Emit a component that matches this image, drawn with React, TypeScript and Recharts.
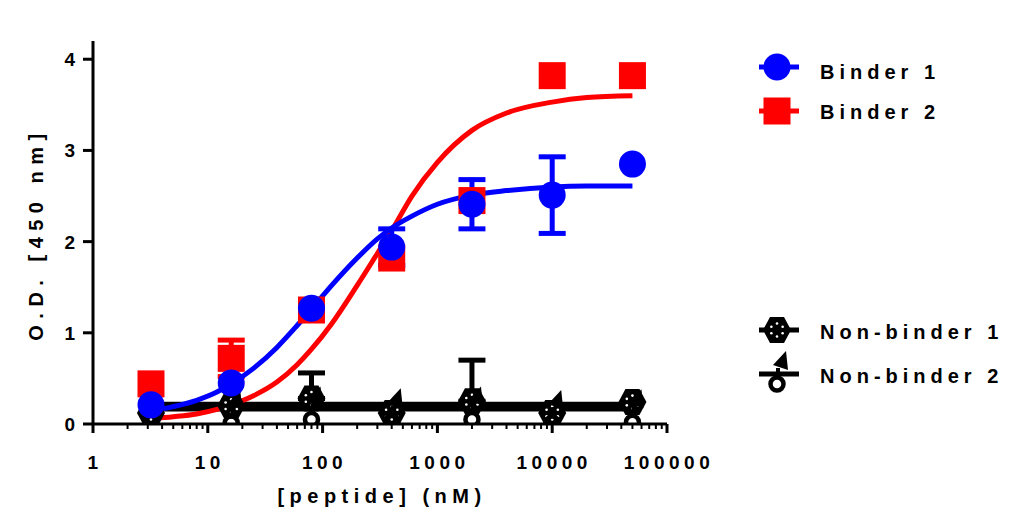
import React from "react";
import { ComposedChart, Scatter, Line, XAxis, YAxis, ErrorBar, Label } from "recharts";

const BLUE = "#0000ff";
const RED = "#ff0000";
const INK = "#000000";
const FONT = "'Liberation Sans', Arial, Helvetica, sans-serif";

// peptide concentration (nM), 5-fold dilution series
const doses = [3.2, 16, 80, 400, 2000, 10000, 50000];

// O.D. at 450 nm, mean and error
const binder1 = [0.21, 0.45, 1.27, 1.94, 2.41, 2.51, 2.85];
const binder1Err = [0, 0, 0, 0.2, 0.27, 0.42, 0];
const binder2 = [0.44, 0.72, 1.25, 1.82, 2.45, 3.82, 3.82];
const binder2Err = [0, 0.2, 0, 0, 0, 0, 0];
const nonBinder1 = [0.12, 0.2, 0.28, 0.12, 0.25, 0.12, 0.24];
const nonBinder1Err = [0, 0, 0.28, 0, 0.45, 0, 0]; // upper only
const nonBinder2 = [0.16, 0.12, 0.16, 0.14, 0.16, 0.12, 0.13];

// fitted dose-response curves
const fitDoses = [3.2, 5, 8, 12, 16, 25, 40, 60, 80, 120, 200, 300, 400, 600, 1000, 2000, 4000, 10000, 20000, 50000];
const binder1Fit = [0.14, 0.19, 0.26, 0.35, 0.44, 0.61, 0.84, 1.08, 1.26, 1.52, 1.82, 2.03, 2.15, 2.28, 2.41, 2.51, 2.56, 2.6, 2.61, 2.61];
const binder2Fit = [0.06, 0.08, 0.11, 0.16, 0.21, 0.31, 0.46, 0.65, 0.82, 1.1, 1.52, 1.87, 2.12, 2.5, 2.87, 3.22, 3.41, 3.53, 3.58, 3.6];
const flatDoses = [3.2, 50000];
const nonBinder1Fit = [0.17, 0.17];
const nonBinder2Fit = [0.21, 0.21];

const xMajor = [1, 10, 100, 1000, 10000, 100000];
const xLabels = ["1", "10", "100", "1000", "10000", "100000"];
const xMinorSteps = [2, 3, 4, 5, 6, 7, 8, 9];
const yTicks = [0, 1, 2, 3, 4];

const xTicks = [
  ...xMajor,
  ...xMajor.slice(0, -1).flatMap((d) => xMinorSteps.map((m) => m * d)),
].sort((a, b) => a - b);

const points = (ys: number[], errs?: number[], upperOnly = false) =>
  doses.map((x, i) => {
    const e = errs ? errs[i] : 0;
    return { x, y: ys[i], err: upperOnly && e > 0 ? [0, e] : e };
  });
const curve = (xs: number[], ys: number[]) => xs.map((x, i) => ({ x, y: ys[i] }));

const textStyle = { fontFamily: FONT, fontWeight: 700, fill: INK } as const;

const circleMark = (cx: number, cy: number) => <circle cx={cx} cy={cy} r={13.5} fill={BLUE} />;
const squareMark = (cx: number, cy: number) => (
  <rect x={cx - 13.5} y={cy - 13.5} width={27} height={27} fill={RED} />
);
const hexMark = (cx: number, cy: number) => {
  const dots = [90, 30, -30, -90, -150, 150].map((a) => {
    const r = (a * Math.PI) / 180;
    return <circle key={a} cx={cx + 6.5 * Math.cos(r)} cy={cy - 6.5 * Math.sin(r)} r={1.3} fill="#fff" />;
  });
  return (
    <g>
      <polygon
        points={`${cx - 14},${cy} ${cx - 7},${cy - 13} ${cx + 7},${cy - 13} ${cx + 14},${cy} ${cx + 7},${cy + 13} ${cx - 7},${cy + 13}`}
        fill={INK}
      />
      {dots}
    </g>
  );
};
const flagMark = (cx: number, cy: number) => (
  <g>
    <circle cx={cx} cy={cy + 10} r={6.5} fill="none" stroke={INK} strokeWidth={4.5} />
    <line x1={cx + 1} y1={cy - 6} x2={cx + 1} y2={cy + 3} stroke={INK} strokeWidth={4} />
    <polygon points={`${cx + 9},${cy - 23} ${cx - 4},${cy - 9} ${cx + 11},${cy - 4}`} fill={INK} />
  </g>
);

const XTick = (props: any) => {
  const { x, y, payload } = props;
  const i = xMajor.indexOf(payload.value);
  const major = i >= 0;
  return (
    <g>
      <line x1={x} x2={x} y1={y} y2={y + (major ? 9 : 5)} stroke={INK} strokeWidth={major ? 3 : 2} />
      {major && (
        <text x={x + 2} y={y + 45} textAnchor="middle" fontSize={19} letterSpacing={4.5} style={textStyle}>
          {xLabels[i]}
        </text>
      )}
    </g>
  );
};

const YTick = (props: any) => {
  const { x, y, payload } = props;
  return (
    <g>
      <line x1={x - 10} x2={x} y1={y} y2={y} stroke={INK} strokeWidth={3} />
      <text x={x - 18} y={y + 7} textAnchor="end" fontSize={19} style={textStyle}>
        {payload.value}
      </text>
    </g>
  );
};

const legendItems = [
  { name: "Binder 1", cy: 59, ty: 71, color: BLUE, mark: circleMark },
  { name: "Binder 2", cy: 103, ty: 111, color: RED, mark: squareMark },
  { name: "Non-binder 1", cy: 322, ty: 331, color: INK, mark: hexMark },
  { name: "Non-binder 2", cy: 366, ty: 375, color: INK, mark: flagMark },
];

const ChartLegend = () => (
  <svg width={1001} height={506} style={{ position: "absolute", left: 0, top: 0, pointerEvents: "none" }}>
    {legendItems.map((it) => (
      <g key={it.name}>
        <line x1={751} x2={791} y1={it.cy} y2={it.cy} stroke={it.color} strokeWidth={5} />
        {it.mark(769, it.cy)}
        <text x={812} y={it.ty} fontSize={20} letterSpacing={5} style={textStyle}>
          {it.name}
        </text>
      </g>
    ))}
  </svg>
);

export default function App() {
  return (
    <div style={{ position: "relative", width: 1001, height: 506 }}>
      <ComposedChart width={1001} height={506} margin={{ top: 33, right: 342, bottom: 0, left: 0 }}>
        <XAxis
          dataKey="x"
          type="number"
          scale="log"
          domain={[1, 100000]}
          allowDataOverflow
          ticks={xTicks}
          interval={0}
          tickSize={0}
          tickMargin={0}
          tickLine={false}
          tick={<XTick />}
          axisLine={{ stroke: INK, strokeWidth: 3 }}
          height={90}
        >
          <Label
            content={() => (
              <text x={374} y={495} textAnchor="middle" fontSize={20} letterSpacing={5.5} style={textStyle}>
                [peptide] (nM)
              </text>
            )}
          />
        </XAxis>
        <YAxis
          dataKey="y"
          type="number"
          domain={[0, 4.2]}
          allowDataOverflow
          ticks={yTicks}
          interval={0}
          tickSize={0}
          tickMargin={0}
          tickLine={false}
          tick={<YTick />}
          axisLine={{ stroke: INK, strokeWidth: 3 }}
          width={85}
        >
          <Label
            content={() => (
              <text
                x={35}
                y={226}
                transform="rotate(-90 35 226)"
                textAnchor="middle"
                fontSize={20}
                letterSpacing={6.5}
                style={textStyle}
              >
                O.D. [450 nm]
              </text>
            )}
          />
        </YAxis>

        <Line data={curve(flatDoses, nonBinder1Fit)} dataKey="y" type="linear" stroke={INK} strokeWidth={6} dot={false} isAnimationActive={false} />
        <Line data={curve(flatDoses, nonBinder2Fit)} dataKey="y" type="linear" stroke={INK} strokeWidth={6} dot={false} isAnimationActive={false} />
        <Scatter data={points(nonBinder1, nonBinder1Err, true)} dataKey="y" shape={(p: any) => hexMark(p.cx, p.cy)} isAnimationActive={false}>
          <ErrorBar dataKey="err" direction="y" width={13.5} strokeWidth={5} stroke={INK} />
        </Scatter>
        <Scatter data={points(nonBinder2)} dataKey="y" shape={(p: any) => flagMark(p.cx, p.cy)} isAnimationActive={false} />

        <Line data={curve(fitDoses, binder2Fit)} dataKey="y" type="monotone" stroke={RED} strokeWidth={5} dot={false} isAnimationActive={false} />
        <Scatter data={points(binder2, binder2Err)} dataKey="y" shape={(p: any) => squareMark(p.cx, p.cy)} isAnimationActive={false}>
          <ErrorBar dataKey="err" direction="y" width={13.5} strokeWidth={5} stroke={RED} />
        </Scatter>

        <Line data={curve(fitDoses, binder1Fit)} dataKey="y" type="monotone" stroke={BLUE} strokeWidth={5} dot={false} isAnimationActive={false} />
        <Scatter data={points(binder1, binder1Err)} dataKey="y" shape={(p: any) => circleMark(p.cx, p.cy)} isAnimationActive={false}>
          <ErrorBar dataKey="err" direction="y" width={13.5} strokeWidth={5} stroke={BLUE} />
        </Scatter>
      </ComposedChart>
      <ChartLegend />
    </div>
  );
}
